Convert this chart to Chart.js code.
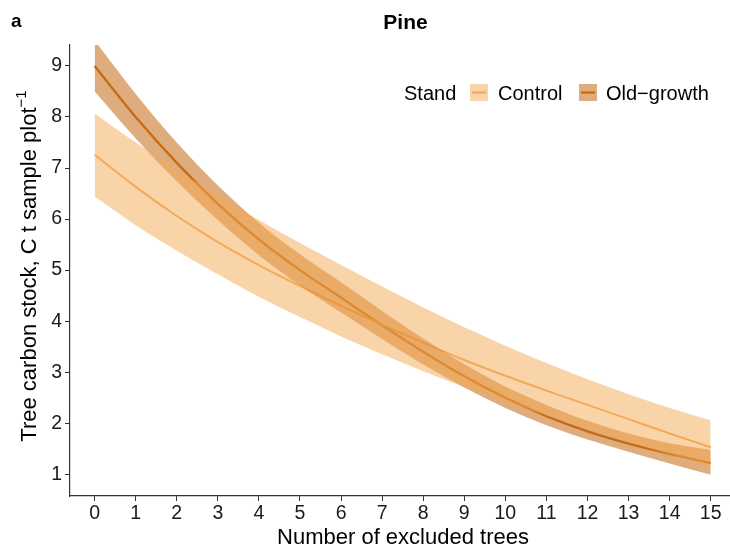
<!DOCTYPE html>
<html>
<head>
<meta charset="utf-8">
<script src="https://cdn.jsdelivr.net/npm/chart.js@4.4.1/dist/chart.umd.min.js"></script>
<style>
  html, body { margin: 0; padding: 0; background: #ffffff; }
  #wrap { width: 730px; height: 547px; position: relative; }
  canvas { display: block; }
</style>
</head>
<body>
<div id="wrap"><canvas id="c" width="730" height="547"></canvas></div>
<script>
// ---- data ----
const excludedTrees = [0, 1, 2, 3, 4, 5, 6, 7, 8, 9, 10, 11, 12, 13, 14, 15];
const controlMean  = [7.26, 6.63, 6.06, 5.55, 5.1, 4.69, 4.3, 3.93, 3.58, 3.24, 2.93, 2.64, 2.36, 2.08, 1.8, 1.53];
const controlLower = [6.44, 5.88, 5.38, 4.92, 4.48, 4.08, 3.7, 3.35, 3.02, 2.71, 2.42, 2.15, 1.89, 1.64, 1.39, 1.15];
const controlUpper = [8.07, 7.5, 6.97, 6.46, 5.98, 5.53, 5.1, 4.68, 4.27, 3.88, 3.52, 3.18, 2.86, 2.57, 2.3, 2.06];
const oldMean  = [9.0, 8.0, 7.1, 6.3, 5.6, 5.0, 4.46, 3.92, 3.4, 2.92, 2.5, 2.14, 1.84, 1.6, 1.4, 1.22];
const oldLower = [8.5, 7.58, 6.74, 5.98, 5.29, 4.7, 4.17, 3.65, 3.15, 2.7, 2.3, 1.96, 1.68, 1.44, 1.21, 0.99];
const oldUpper = [9.5, 8.45, 7.5, 6.66, 5.93, 5.31, 4.76, 4.2, 3.66, 3.16, 2.72, 2.36, 2.05, 1.8, 1.61, 1.48];
const xTickLabels = [0, 1, 2, 3, 4, 5, 6, 7, 8, 9, 10, 11, 12, 13, 14, 15];
const yTickLabels = [1, 2, 3, 4, 5, 6, 7, 8, 9];
const seriesNames = ['Control', 'Old\u2212growth'];
const legendTitle = 'Stand';
const chartTitle = 'Pine';
const panelLabel = 'a';
const xTitle = 'Number of excluded trees';
const yTitleMain = 'Tree carbon stock, C t sample plot';
const yTitleSup = '\u22121';

// ---- styles ----
const controlLine = '#F3AA5E';
const controlFill = 'rgba(243,169,81,0.5)';
const oldLine = '#C66A12';
const oldFill = 'rgba(198,108,24,0.56)';
const FONT = '"Liberation Sans", Arial, sans-serif';

const pts = arr => excludedTrees.map((x, i) => ({ x: x, y: arr[i] }));

const base = { pointRadius: 0, pointHoverRadius: 0, cubicInterpolationMode: 'monotone', tension: 0.4 };

const datasets = [
  Object.assign({}, base, { label: 'cl', data: pts(controlLower), borderWidth: 0, borderColor: 'rgba(0,0,0,0)', fill: false }),
  Object.assign({}, base, { label: 'cu', data: pts(controlUpper), borderWidth: 0, borderColor: 'rgba(0,0,0,0)', backgroundColor: controlFill, fill: '-1' }),
  Object.assign({}, base, { label: 'ol', data: pts(oldLower), borderWidth: 0, borderColor: 'rgba(0,0,0,0)', fill: false }),
  Object.assign({}, base, { label: 'ou', data: pts(oldUpper), borderWidth: 0, borderColor: 'rgba(0,0,0,0)', backgroundColor: oldFill, fill: '-1' }),
  Object.assign({}, base, { label: seriesNames[0], data: pts(controlMean), borderWidth: 2, borderColor: controlLine, fill: false }),
  Object.assign({}, base, { label: seriesNames[1], data: pts(oldMean), borderWidth: 2.4, borderColor: oldLine, fill: false })
];

const decor = {
  id: 'decor',
  afterDraw(chart) {
    const ctx = chart.ctx;
    const area = chart.chartArea;
    ctx.save();
    ctx.fillStyle = '#000';
    ctx.textBaseline = 'alphabetic';
    // panel label
    ctx.font = 'bold 19px ' + FONT;
    ctx.textAlign = 'left';
    ctx.fillText(panelLabel, 11, 27);
    // title
    ctx.font = 'bold 21px ' + FONT;
    ctx.textAlign = 'center';
    ctx.fillText(chartTitle, 405.5, 29);
    // x title
    ctx.font = '22px ' + FONT;
    ctx.fillText(xTitle, (area.left + area.right) / 2 + 3, 544);
    // y title with superscript
    ctx.save();
    ctx.translate(36, 266);
    ctx.rotate(-Math.PI / 2);
    ctx.font = '22px ' + FONT;
    const wMain = ctx.measureText(yTitleMain).width;
    ctx.font = '15px ' + FONT;
    const wSup = ctx.measureText(yTitleSup).width;
    const total = wMain + wSup;
    ctx.textAlign = 'left';
    ctx.font = '22px ' + FONT;
    ctx.fillText(yTitleMain, -total / 2, 0);
    ctx.font = '15px ' + FONT;
    ctx.fillText(yTitleSup, -total / 2 + wMain, -10);
    ctx.restore();
    // legend
    ctx.font = '20px ' + FONT;
    ctx.textAlign = 'left';
    ctx.fillStyle = '#000';
    const baseY = 99.5;
    ctx.fillText(legendTitle, 404, baseY);
    const keys = [
      { x: 470, fill: controlFill, line: controlLine, text: seriesNames[0], tx: 498 },
      { x: 579, fill: oldFill, line: oldLine, text: seriesNames[1], tx: 606 }
    ];
    keys.forEach(k => {
      ctx.fillStyle = '#ffffff';
      ctx.fillRect(k.x, 84, 18, 17);
      ctx.fillStyle = k.fill;
      ctx.fillRect(k.x, 84, 18, 17);
      ctx.strokeStyle = k.line;
      ctx.lineWidth = 2.2;
      ctx.beginPath();
      ctx.moveTo(k.x + 2, 92.5);
      ctx.lineTo(k.x + 16, 92.5);
      ctx.stroke();
      ctx.fillStyle = '#000';
      ctx.fillText(k.text, k.tx, baseY);
    });
    ctx.restore();
  }
};

new Chart(document.getElementById('c'), {
  type: 'line',
  data: { datasets: datasets },
  options: {
    responsive: false,
    animation: false,
    events: [],
    layout: { padding: { top: 45, right: 0, bottom: 0, left: 0 } },
    plugins: { legend: { display: false }, tooltip: { enabled: false }, title: { display: false } },
    scales: {
      x: {
        type: 'linear',
        min: -0.6,
        max: 15.47,
        afterBuildTicks: s => { s.ticks = xTickLabels.map(v => ({ value: v })); },
        afterFit: s => { s.height = 51; },
        grid: { display: true, drawOnChartArea: false, drawTicks: true, tickLength: 5, color: '#333', lineWidth: 1 },
        border: { display: true, color: '#333', width: 1.2 },
        ticks: { color: '#1a1a1a', font: { family: FONT, size: 19.5 }, padding: 1, maxRotation: 0, autoSkip: false }
      },
      y: {
        type: 'linear',
        min: 0.575,
        max: 9.41,
        afterBuildTicks: s => { s.ticks = yTickLabels.map(v => ({ value: v })); },
        afterFit: s => { s.width = 70; },
        grid: { display: true, drawOnChartArea: false, drawTicks: true, tickLength: 5, color: '#333', lineWidth: 1 },
        border: { display: true, color: '#333', width: 1.2 },
        ticks: { color: '#1a1a1a', font: { family: FONT, size: 19.5 }, padding: 3, autoSkip: false }
      }
    }
  },
  plugins: [decor]
});
</script>
</body>
</html>
